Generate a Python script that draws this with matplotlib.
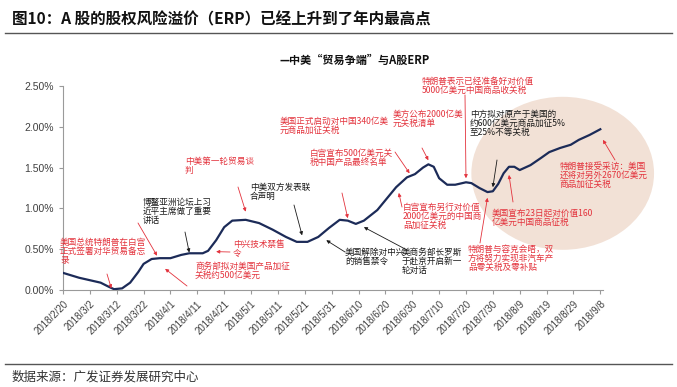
import numpy as np
import pandas as pd
import matplotlib
matplotlib.use("Agg")
import matplotlib.pyplot as plt
from matplotlib.patches import Ellipse

plt.rcParams['font.family'] = ['Noto Sans CJK SC', 'DejaVu Sans']

# ERP series (%)
dates = ["2018-02-20", "2018-02-26", "2018-03-02", "2018-03-06", "2018-03-09", "2018-03-11",
         "2018-03-14", "2018-03-17", "2018-03-20", "2018-03-22", "2018-03-25", "2018-03-28",
         "2018-04-01", "2018-04-05", "2018-04-08", "2018-04-13", "2018-04-15", "2018-04-18",
         "2018-04-21", "2018-04-24", "2018-04-29", "2018-05-04", "2018-05-09", "2018-05-14",
         "2018-05-18", "2018-05-22", "2018-05-26", "2018-05-30", "2018-06-03", "2018-06-06",
         "2018-06-09", "2018-06-12", "2018-06-17", "2018-06-21", "2018-06-24", "2018-06-28",
         "2018-07-01", "2018-07-04", "2018-07-06", "2018-07-08", "2018-07-10", "2018-07-13",
         "2018-07-16", "2018-07-20", "2018-07-22", "2018-07-25", "2018-07-28", "2018-07-30",
         "2018-08-01", "2018-08-03", "2018-08-05", "2018-08-07", "2018-08-09", "2018-08-13",
         "2018-08-17", "2018-08-20", "2018-08-24", "2018-08-28", "2018-08-31", "2018-09-04",
         "2018-09-08"]
erp = [0.21, 0.15, 0.12, 0.09, 0.04, 0.01,
       0.02, 0.09, 0.22, 0.32, 0.38, 0.39,
       0.39, 0.43, 0.45, 0.45, 0.48, 0.61,
       0.77, 0.85, 0.86, 0.82, 0.74, 0.65,
       0.59, 0.59, 0.65, 0.76, 0.86, 0.85,
       0.81, 0.85, 0.98, 1.14, 1.26, 1.38,
       1.42, 1.50, 1.54, 1.51, 1.37, 1.29,
       1.29, 1.32, 1.31, 1.25, 1.20, 1.21,
       1.30, 1.43, 1.51, 1.51, 1.47, 1.53,
       1.62, 1.69, 1.74, 1.78, 1.84, 1.90,
       1.97]

yticks = [0, 0.5, 1.0, 1.5, 2.0, 2.5]
start = pd.Timestamp("2018-02-20")
tick_dates = pd.date_range("2018-02-20", "2018-09-08", freq="10D")
tick_labels = [f"{d.year}/{d.month}/{d.day}" for d in tick_dates]

RED = "#e3323c"
BLK = "#1a1a1a"
W, H = 677, 387

# (text, left px, top px, color)
notes = [
    ("美国总统特朗普在白宫\n正式签署对华贸易备忘\n录", 60, 238, RED),
    ("博鳌亚洲论坛上习\n近平主席做了重要\n讲话", 143, 198, BLK),
    ("中美第一轮贸易谈\n判", 185, 157, RED),
    ("中美双方发表联\n合声明", 250, 183, BLK),
    ("中兴技术禁售\n令", 233, 240, RED),
    ("商务部拟对美国产品加征\n关税约500亿美元", 195, 262, RED),
    ("美国解除对中兴\n的销售禁令", 345, 248, BLK),
    ("美商务部长罗斯\n于赴京开启新一\n轮对话", 402, 248, BLK),
    ("白宫宣布500亿美元关\n税中国产品最终名单", 310, 149, RED),
    ("美国正式启动对中国340亿美\n元商品加征关税", 280, 117, RED),
    ("美方公布2000亿美\n元关税清单", 393, 110, RED),
    ("特朗普表示已经准备好对价值\n5000亿美元中国商品收关税", 422, 77, RED),
    ("中方拟对原产于美国的\n约600亿美元商品加征5%\n至25%不等关税", 470, 110, BLK),
    ("特朗普接受采访：美国\n还将对另外2670亿美元\n商品加征关税", 560, 162, RED),
    ("美国宣布23日起对价值160\n亿美元中国商品征税", 492, 209, RED),
    ("特朗普与容克会晤，双\n方将努力实现非汽车产\n品零关税及零补贴", 468, 245, RED),
    ("白宫宣布另行对价值\n2000亿美元的中国商\n品加征关税", 403, 203, RED),
]

# arrows: tail in px, head at (date, value), color
arrows = [
    ((107, 274), ("2018-03-10", 0.02), RED),
    ((138, 223), ("2018-03-27", 0.42), RED),
    ((185, 232), ("2018-04-08", 0.46), BLK),
    ((238, 187), ("2018-04-29", 0.96), RED),
    ((294, 205), ("2018-05-20", 0.67), BLK),
    ((230, 252), ("2018-04-18", 0.47), RED),
    ((187, 286), ("2018-03-30", 0.26), RED),
    ((345, 252), ("2018-05-29", 0.61), BLK),
    ((407, 250), ("2018-06-12", 0.77), BLK),
    ((342, 193), ("2018-06-06", 0.88), RED),
    ((395, 152), ("2018-06-29", 1.43), RED),
    ((422, 148), ("2018-07-06", 1.59), RED),
    ((465, 95), ("2018-07-20", 1.37), RED),
    ((497, 160), ("2018-07-30", 1.26), BLK),
    ((615, 160), ("2018-09-09", 1.84), RED),
    ((513, 202), ("2018-08-05", 1.41), RED),
    ((480, 243), ("2018-07-28", 1.13), RED),
    ((402, 207), ("2018-06-25", 1.19), RED),
]


def day(s):
    return (pd.Timestamp(s) - start).days


x = np.array([day(d) for d in dates])

fig = plt.figure(figsize=(W / 100, H / 100), dpi=100)
ax = fig.add_axes([63 / W, 1 - 290 / H, (603 - 63) / W, (290 - 86) / H])

ax.add_patch(Ellipse((day("2018-08-24") + 1, 1.43), 68, 1.875, facecolor="#f2e1d6",
                     edgecolor="none", zorder=0, clip_on=False))
ax.plot(x, erp, color="#1c2b58", lw=1.6, zorder=3)

ax.set_xlim(0, 201)
ax.set_ylim(0, 2.5)
ax.set_yticks(yticks)
ax.set_yticklabels([f"{v:.2f}%" for v in yticks], family=["Liberation Sans"], fontsize=7.5, color="#404040")
ax.set_xticks([(d - start).days for d in tick_dates])
ax.set_xticklabels(tick_labels, rotation=45, ha="right", rotation_mode="anchor",
                   family=["Liberation Sans"], fontsize=7, color="#404040")
for s in ["top", "right"]:
    ax.spines[s].set_visible(False)
for s in ["left", "bottom"]:
    ax.spines[s].set_color("#9a9a9a")
    ax.spines[s].set_linewidth(0.8)
ax.tick_params(axis="both", length=3, color="#9a9a9a", width=0.8)
ax.patch.set_alpha(0)

for txt, px, py, c in notes:
    fig.text(px / W, 1 - py / H, txt, color=c, fontsize=6.2, va="top", ha="left",
             linespacing=1.0, zorder=5)

for tail, head, c in arrows:
    ax.annotate("", xy=(day(head[0]), head[1]), xycoords="data",
                xytext=(tail[0], H - tail[1]), textcoords="figure pixels",
                arrowprops=dict(arrowstyle="-|>", color=c, lw=0.6, mutation_scale=5,
                                shrinkA=0, shrinkB=0), zorder=4, annotation_clip=False)

# title, subtitle, source
fig.text(12 / W, 1 - 19 / H, "图10：A 股的股权风险溢价（ERP）已经上升到了年内最高点",
         fontsize=11.2, fontweight="bold", va="center", ha="left", color="#111111")
fig.add_artist(plt.Line2D([5 / W, 672 / W], [1 - 33 / H, 1 - 33 / H], color="#555555", lw=1.0))
fig.text(355 / W, 1 - 60 / H, "—中美“贸易争端”与A股ERP", fontsize=8, fontweight="bold",
         va="center", ha="center", color="#111111")
fig.add_artist(plt.Line2D([5 / W, 672 / W], [1 - 364 / H, 1 - 364 / H], color="#555555", lw=1.0))
fig.text(12 / W, 1 - 377 / H, "数据来源：广发证券发展研究中心", fontsize=9,
         va="center", ha="left", color="#333333")

fig.savefig("out.png", dpi=100, facecolor="white")
